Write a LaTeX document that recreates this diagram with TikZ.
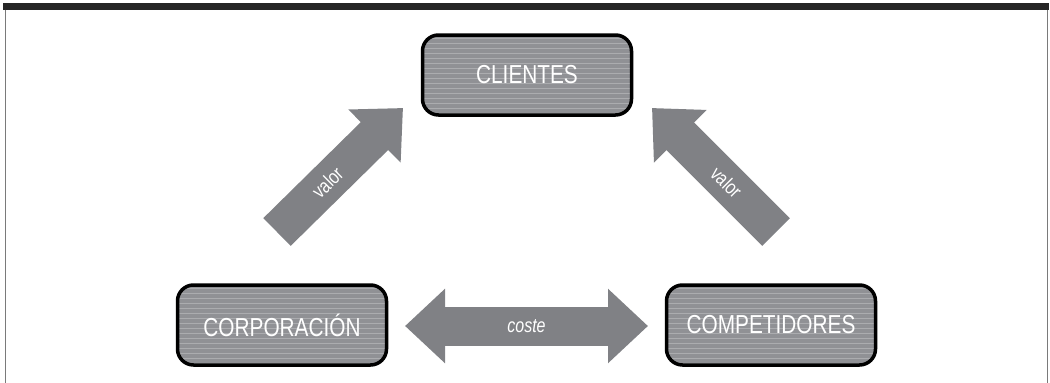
\documentclass[tikz,border=0pt]{standalone}
\usepackage{fontspec}
\setsansfont{Liberation Sans}[FakeStretch=0.8]
\usetikzlibrary{arrows.meta, positioning}
\definecolor{boxgray}{HTML}{909195}
\definecolor{arrowgray}{HTML}{808185}
\definecolor{framegray}{HTML}{7A7A7A}

\begin{document}
\begin{tikzpicture}[x=1pt, y=-1pt, font=\sffamily,
    box/.style={draw=black, line width=3.5pt, fill=boxgray, rounded corners=16pt,
        minimum width=209pt, minimum height=80pt, inner sep=0pt,
        text=white, font=\sffamily\fontsize{26}{30}\selectfont,
        path picture={\foreach \k in {3,8,...,88}
            \draw[white, opacity=0.25, line width=0.6pt]
                ([yshift=-\k pt]path picture bounding box.north west) -- ++(230pt,0pt);}},
    fatarrow/.style={arrowgray, line width=39pt,
        -{Triangle[width=72pt, length=40pt]}},
    fatdouble/.style={arrowgray, line width=39pt,
        {Triangle[width=72pt, length=40pt]}-{Triangle[width=72pt, length=40pt]}},
    arrowtext/.style={text=white, font=\sffamily\fontsize{20}{24}\selectfont}]
    \useasboundingbox (0,0) rectangle (1050,383);

    % Frame
    \fill[black!85] (3,2.5) rectangle (1049,9.5);
    \draw[framegray, line width=1.5pt] (5.5,9.5) -- (5.5,383);
    \draw[framegray, line width=1.5pt] (1047.5,9.5) -- (1047.5,383);

    % Boxes
    \node[box] (cli) at (527,75) {CLIENTES};
    \node[box] (corp) at (282,325) {CORPORACIÓN};
    \node[box] (comp) at (771,325) {COMPETIDORES};

    % Arrow ends
    \coordinate (valorLtail) at (277,232);
    \coordinate (valorLtip) at (403,108);
    \coordinate (valorRtail) at (776,232);
    \coordinate (valorRtip) at (652,108);
    \coordinate (costeL) at (405,326);
    \coordinate (costeR) at (648,326);

    % Arrows
    \draw[fatarrow] (valorLtail) -- (valorLtip)
        node[pos=0.4, sloped, arrowtext] {valor};
    \draw[fatarrow] (valorRtail) -- (valorRtip)
        node[pos=0.4, sloped, arrowtext] {valor};
    \draw[fatdouble] (costeL) -- (costeR)
        node[midway, arrowtext, font=\sffamily\itshape\fontsize{20}{24}\selectfont] {coste};
\end{tikzpicture}
\end{document}
